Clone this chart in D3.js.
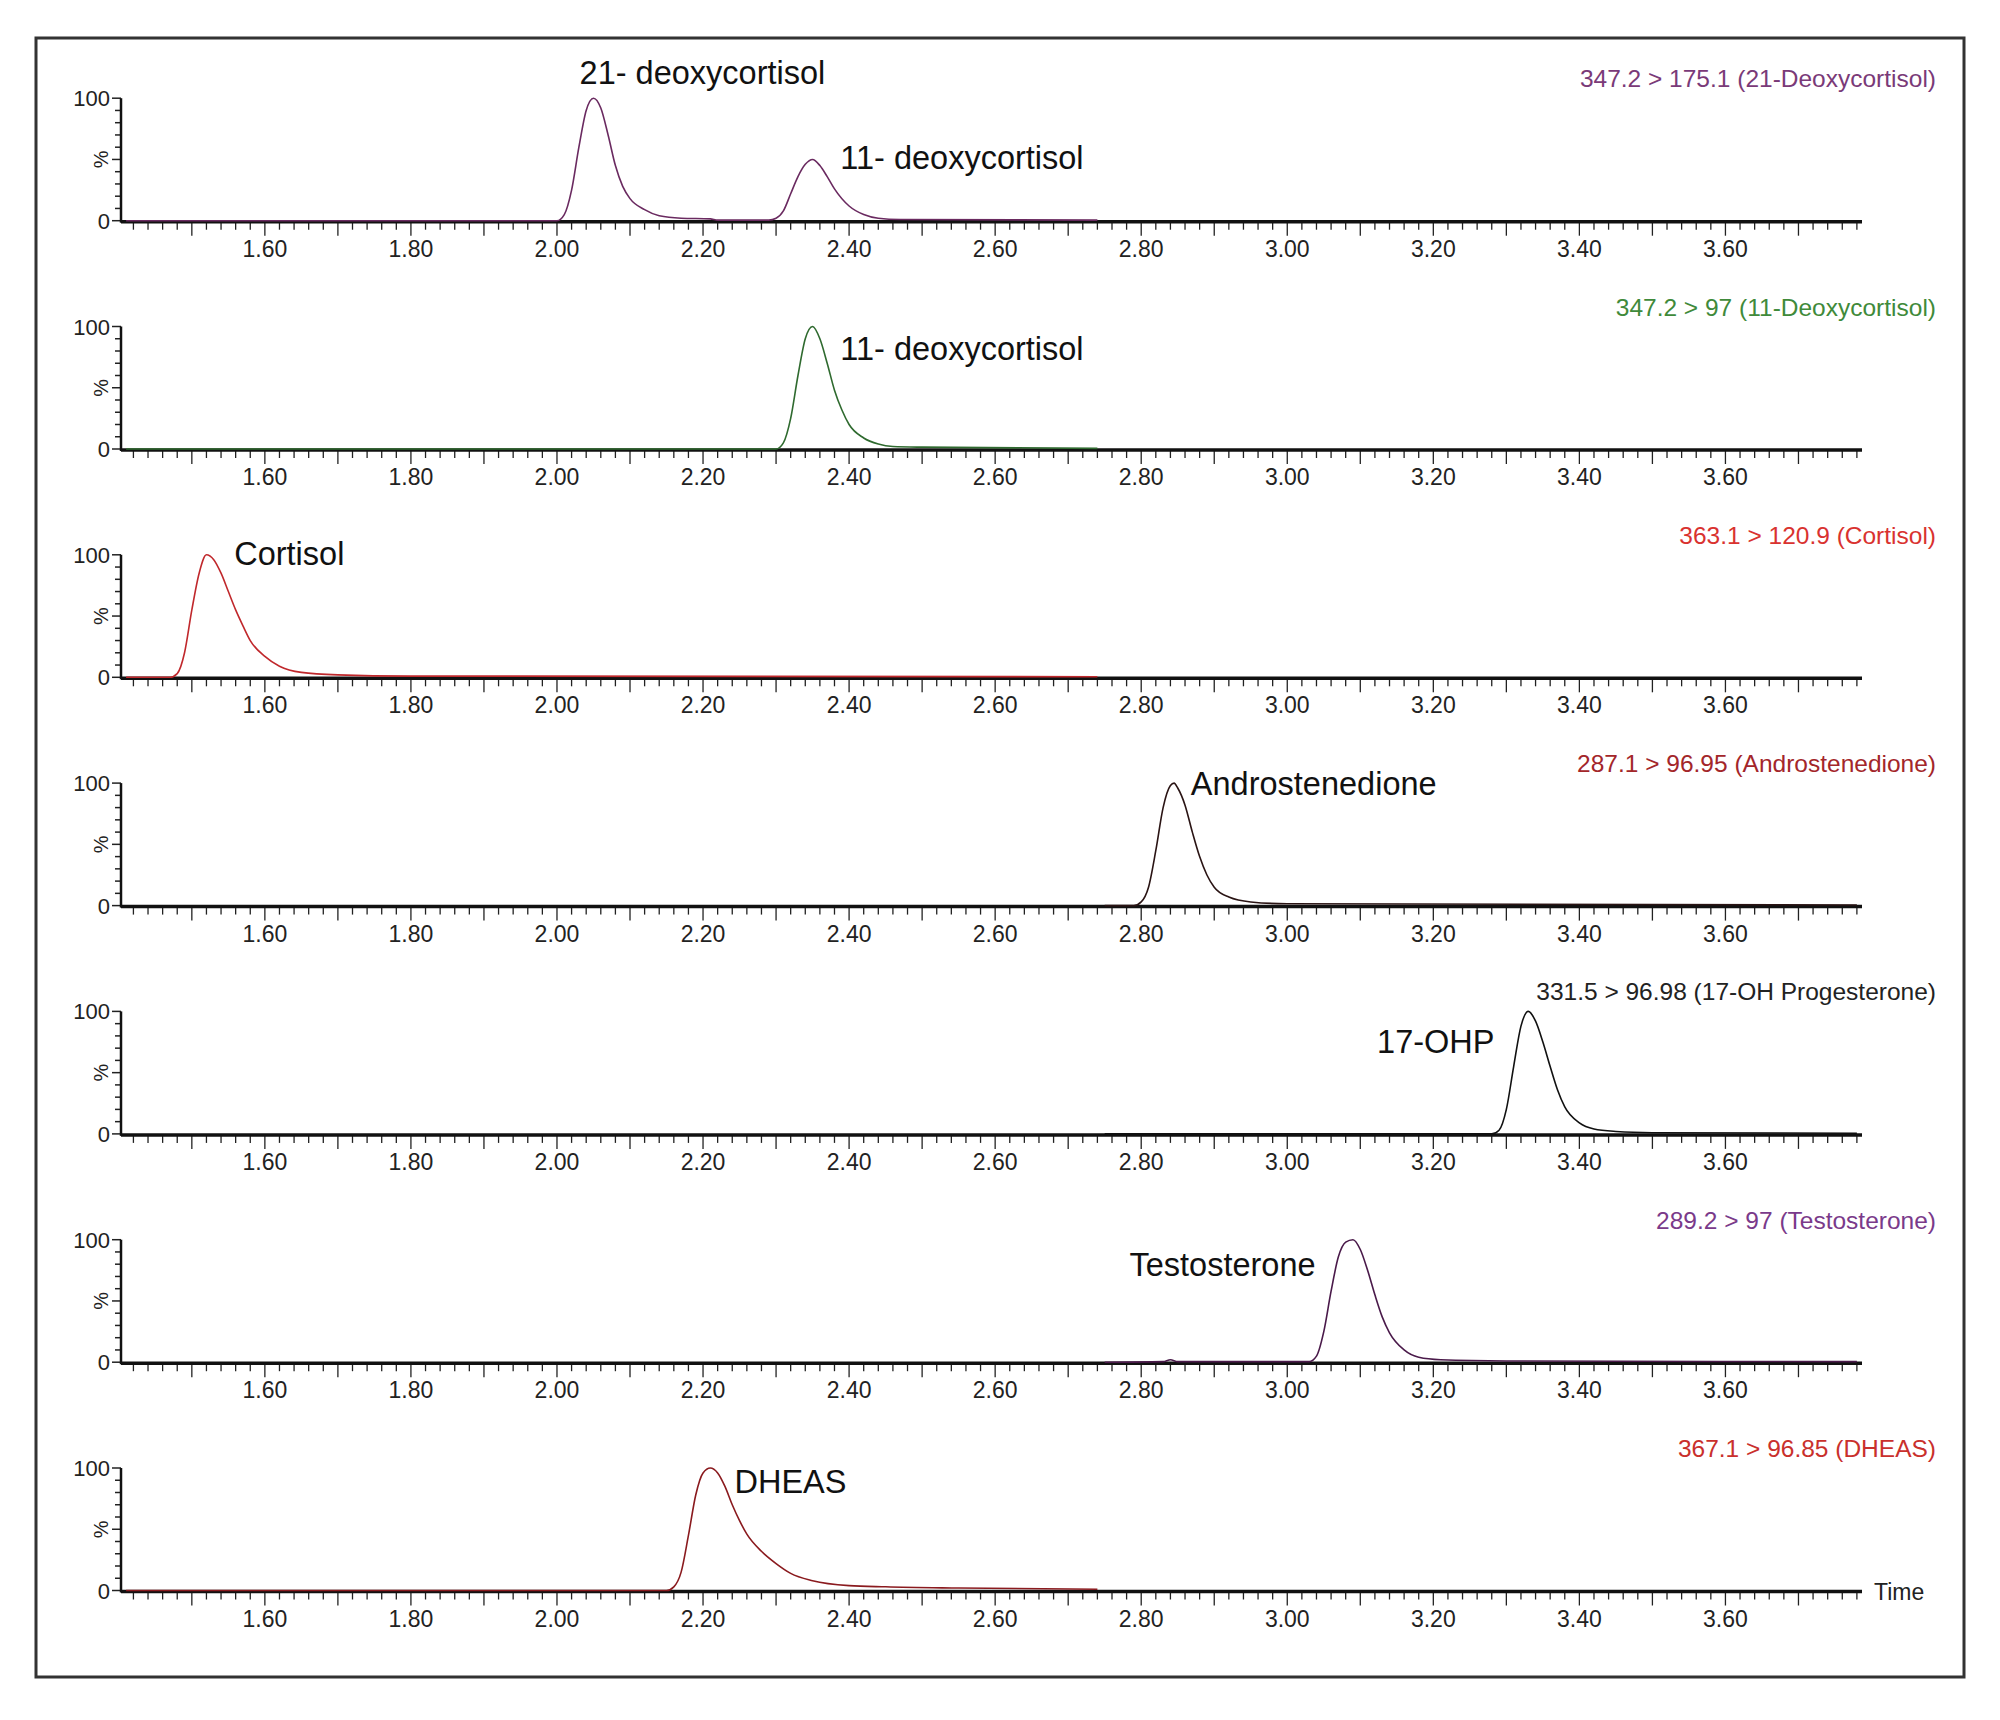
<!DOCTYPE html>
<html><head><meta charset="utf-8">
<script src="https://cdn.jsdelivr.net/npm/d3@7"></script>
<style>body{margin:0;background:#fff}</style></head>
<body><svg id="c" width="2000" height="1720"></svg>
<script>
const panelNames = ["347.2 > 175.1 (21-Deoxycortisol)","347.2 > 97 (11-Deoxycortisol)","363.1 > 120.9 (Cortisol)","287.1 > 96.95 (Androstenedione)","331.5 > 96.98 (17-OH Progesterone)","289.2 > 97 (Testosterone)","367.1 > 96.85 (DHEAS)"];
const panelColors = ["#7a3a78","#3f8a3a","#d9322f","#a3262a","#222222","#7a3a8a","#c9302c"];
const traceColors = ["#6a2a60","#2f6a2f","#c0282c","#2a1414","#111111","#4a1a4a","#8a1a1e"];
const xTickLabels = [1.6,1.8,2.0,2.2,2.4,2.6,2.8,3.0,3.2,3.4,3.6];
const s1 = [[1.41,0],[2.00,0],[2.01,5],[2.02,25],[2.03,60],[2.04,90],[2.05,100],[2.06,92],[2.07,70],[2.08,45],[2.09,28],[2.10,18],[2.12,9],[2.14,4],[2.17,2],[2.21,1.5],[2.22,0.5],[2.29,0.5],[2.30,2],[2.31,8],[2.32,22],[2.33,36],[2.34,46],[2.35,50],[2.36,45],[2.37,36],[2.38,26],[2.40,12],[2.42,5],[2.44,2],[2.47,1],[2.74,0.5]];
const s2 = [[1.41,0],[2.30,0],[2.31,5],[2.32,25],[2.33,60],[2.34,90],[2.35,100],[2.36,90],[2.37,70],[2.38,48],[2.39,32],[2.40,20],[2.42,9],[2.44,4],[2.46,2],[2.50,1.5],[2.74,0.5]];
const s3 = [[1.41,0],[1.47,0],[1.48,3],[1.49,20],[1.50,55],[1.51,85],[1.52,100],[1.53,96],[1.54,85],[1.55,70],[1.56,55],[1.57,42],[1.58,30],[1.60,17],[1.62,9],[1.65,4],[1.70,2],[1.80,1],[2.74,0.5]];
const s4 = [[2.75,0],[2.79,0],[2.80,3],[2.81,15],[2.82,45],[2.83,80],[2.84,98],[2.845,100],[2.85,96],[2.86,82],[2.87,60],[2.88,40],[2.89,25],[2.90,15],[2.92,7],[2.95,3],[3.00,1.5],[3.78,0.5]];
const s5 = [[2.75,0],[3.28,0],[3.29,3],[3.30,20],[3.31,55],[3.32,88],[3.33,100],[3.34,92],[3.35,75],[3.36,55],[3.37,36],[3.38,22],[3.40,9],[3.42,4],[3.45,2],[3.50,1],[3.78,0.5]];
const s6 = [[2.75,0],[2.83,0.5],[2.84,2],[2.85,0.5],[3.03,0.5],[3.04,5],[3.05,25],[3.06,58],[3.07,86],[3.08,98],[3.09,100],[3.10,92],[3.11,75],[3.12,55],[3.13,37],[3.14,24],[3.16,10],[3.18,4],[3.21,2],[3.30,1],[3.78,0.5]];
const s7 = [[1.41,0],[2.15,0],[2.16,3],[2.17,15],[2.18,45],[2.19,78],[2.20,96],[2.21,100],[2.22,96],[2.23,85],[2.24,70],[2.25,57],[2.26,46],[2.28,32],[2.30,22],[2.32,14],[2.35,8],[2.40,4],[2.45,3],[2.55,2],[2.74,1]];
const series = [s1,s2,s3,s4,s5,s6,s7];
const peakLabels = [
 [{t:"21- deoxycortisol",x:2.031,y:112},{t:"11- deoxycortisol",x:2.388,y:42}],
 [{t:"11- deoxycortisol",x:2.388,y:73}],
 [{t:"Cortisol",x:1.558,y:92}],
 [{t:"Androstenedione",x:2.868,y:90}],
 [{t:"17-OHP",x:3.123,y:66}],
 [{t:"Testosterone",x:2.784,y:70}],
 [{t:"DHEAS",x:2.243,y:80}]
];

const svg = d3.select("#c");
const FONT = "'Liberation Sans Narrow','Liberation Sans',Arial,sans-serif";
svg.append("rect").attr("x",36).attr("y",38).attr("width",1928).attr("height",1639)
  .attr("fill","none").attr("stroke","#333").attr("stroke-width",3);

const x = d3.scaleLinear().domain([1.403,3.787]).range([121,1862]);
const top0 = 98.2, step = 228.3, ph = 122.5;

series.forEach((data,i)=>{
  const yTop = top0 + i*step;
  const y = d3.scaleLinear().domain([0,100]).range([yTop+ph, yTop]);
  const g = svg.append("g");
  const y0 = y(0);
  const minor = d3.range(1.42,3.785,0.02);
  g.selectAll(".mt").data(minor).join("line")
    .attr("x1",d=>x(d)).attr("x2",d=>x(d)).attr("y1",y0+2)
    .attr("y2",d=>Math.abs(d*10-Math.round(d*10))<0.01? y0+15 : y0+9)
    .attr("stroke","#222").attr("stroke-width",1.3);
  g.selectAll(".xl").data(xTickLabels).join("text")
    .attr("x",d=>x(d)).attr("y",y0+36).attr("text-anchor","middle")
    .attr("font-family",FONT).attr("font-size",23).attr("fill","#222")
    .text(d=>d.toFixed(2));
  g.selectAll(".yt").data(d3.range(0,101,10)).join("line")
    .attr("x1",121).attr("x2",d=>(d%50===0)?112:115).attr("y1",d=>y(d)).attr("y2",d=>y(d))
    .attr("stroke","#222").attr("stroke-width",1.5);
  g.selectAll(".yl").data([0,100]).join("text")
    .attr("x",110).attr("y",d=>y(d)+8).attr("text-anchor","end")
    .attr("font-family",FONT).attr("font-size",22).attr("fill","#222").text(d=>d);
  g.append("text").attr("transform",`translate(108,${y(50)}) rotate(-90)`)
    .attr("text-anchor","middle").attr("font-family",FONT).attr("font-size",20).attr("fill","#222").text("%");
  g.append("line").attr("x1",121).attr("x2",121).attr("y1",y(100)).attr("y2",y0+2)
    .attr("stroke","#111").attr("stroke-width",2.5);
  g.append("line").attr("x1",121).attr("x2",1862).attr("y1",y0+1).attr("y2",y0+1)
    .attr("stroke","#111").attr("stroke-width",3.5);
  g.append("path").datum(data)
    .attr("d",d3.line().x(d=>x(d[0])).y(d=>y(d[1])).curve(d3.curveMonotoneX))
    .attr("fill","none").attr("stroke",traceColors[i]).attr("stroke-width",1.6);
  g.append("text").attr("x",1936).attr("y",yTop-11).attr("text-anchor","end")
    .attr("font-family",FONT).attr("font-size",24.5).attr("fill",panelColors[i]).text(panelNames[i]);
  peakLabels[i].forEach(p=>{
    g.append("text").attr("x",x(p.x)).attr("y",y(p.y)).attr("font-family","'Liberation Sans',Arial,sans-serif")
      .attr("font-size",32.5).attr("fill","#111").text(p.t);
  });
  if(i===6){
    g.append("text").attr("x",1874).attr("y",y0+9).attr("font-family",FONT)
      .attr("font-size",23).attr("fill","#222").text("Time");
  }
});
</script></body></html>
